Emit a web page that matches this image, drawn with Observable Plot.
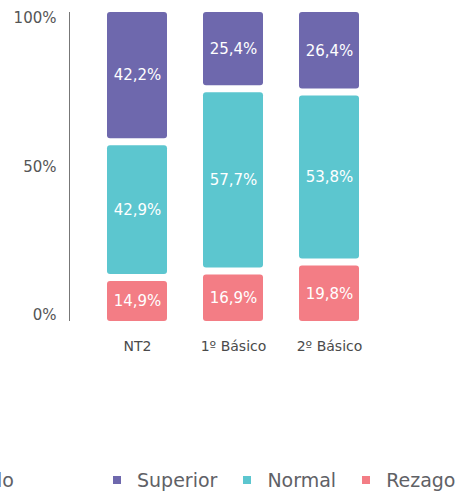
<!DOCTYPE html>
<html>
<head>
<meta charset="utf-8">
<script src="https://cdn.jsdelivr.net/npm/d3@7"></script>
<script src="https://cdn.jsdelivr.net/npm/@observablehq/plot@0.6"></script>
<style>
  body { margin: 0; background: #fff; font-family: "DejaVu Sans", sans-serif; }
  #wrap { position: relative; width: 460px; height: 491px; overflow: hidden; }
  #chart { position: absolute; left: 0; top: 0; }
  .legend { position: absolute; top: 467px; font-size: 19px; color: #5f6166; white-space: nowrap; line-height: 26px; }
  .legend-title { right: 446px; }
  .legend-items { left: 113px; display: flex; align-items: center; }
  .legend-items .sw { width: 8px; height: 8px; display: inline-block; margin-right: 16px; }
  .legend-items .it { display: flex; align-items: center; margin-right: 26px; }
</style>
</head>
<body>
<div id="wrap">
  <div id="chart"></div>
  <div class="legend legend-title">Nivel de desarrollo</div>
  <div class="legend legend-items" id="legend"></div>
</div>
<script>
const categories = ["NT2", "1º Básico", "2º Básico"];
const series = ["Rezago", "Normal", "Superior"];
const rezago = [14.9, 16.9, 19.8];
const normal = [42.9, 57.7, 53.8];
const superior = [42.2, 25.4, 26.4];
const yTicks = [0, 50, 100];
const colors = ["#f37d85", "#5cc6cf", "#6e68ad"];
const legendOrder = ["Superior", "Normal", "Rezago"];

const values = { Rezago: rezago, Normal: normal, Superior: superior };
const data = [];
categories.forEach((c, i) => {
  series.forEach(s => data.push({ category: c, series: s, value: values[s][i] }));
});

const fmt = v => v.toFixed(1).replace(".", ",") + "%";
const inset = 3.5;
const tickStyle = { tickSize: 0, tickPadding: 14, fontSize: 15, color: "#555", tickFormat: d => d + "%" };

const chart = Plot.plot({
  width: 460,
  height: 370,
  marginTop: 8.5,
  marginBottom: 45.5,
  marginLeft: 70,
  marginRight: 65,
  style: { fontFamily: "DejaVu Sans, sans-serif", background: "transparent" },
  x: { domain: categories, padding: 0.38, label: null },
  y: { domain: [0, 100], label: null },
  color: { domain: series, range: colors },
  marks: [
    Plot.barY(data, Plot.stackY({
      x: "category", y: "value", z: "series", fill: "series",
      order: series, insetTop: inset, insetBottom: inset, rx: 3
    })),
    Plot.text(data, Plot.stackY({
      x: "category", y: "value", z: "series", order: series,
      text: d => fmt(d.value), fill: "white", fontSize: 15
    })),
    Plot.axisX({ tickSize: 0, tickPadding: 16, fontSize: 14, color: "#4a4a4a" }),
    Plot.axisY([yTicks[2]], { ...tickStyle, dy: 9.5 }),
    Plot.axisY([yTicks[1]], tickStyle),
    Plot.axisY([yTicks[0]], { ...tickStyle, dy: -9.5 })
  ]
});
document.getElementById("chart").appendChild(chart);

// vertical axis line from the y scale
const ys = chart.scale("y");
d3.select(chart).append("line")
  .attr("x1", 69.5).attr("x2", 69.5)
  .attr("y1", ys.apply(100) + inset).attr("y2", ys.apply(0) - inset)
  .attr("stroke", "#777").attr("stroke-width", 1);

const legend = document.getElementById("legend");
legendOrder.forEach(s => {
  const it = document.createElement("span");
  it.className = "it";
  const sw = document.createElement("span");
  sw.className = "sw";
  sw.style.background = colors[series.indexOf(s)];
  it.appendChild(sw);
  it.appendChild(document.createTextNode(s));
  legend.appendChild(it);
});
</script>
</body>
</html>
